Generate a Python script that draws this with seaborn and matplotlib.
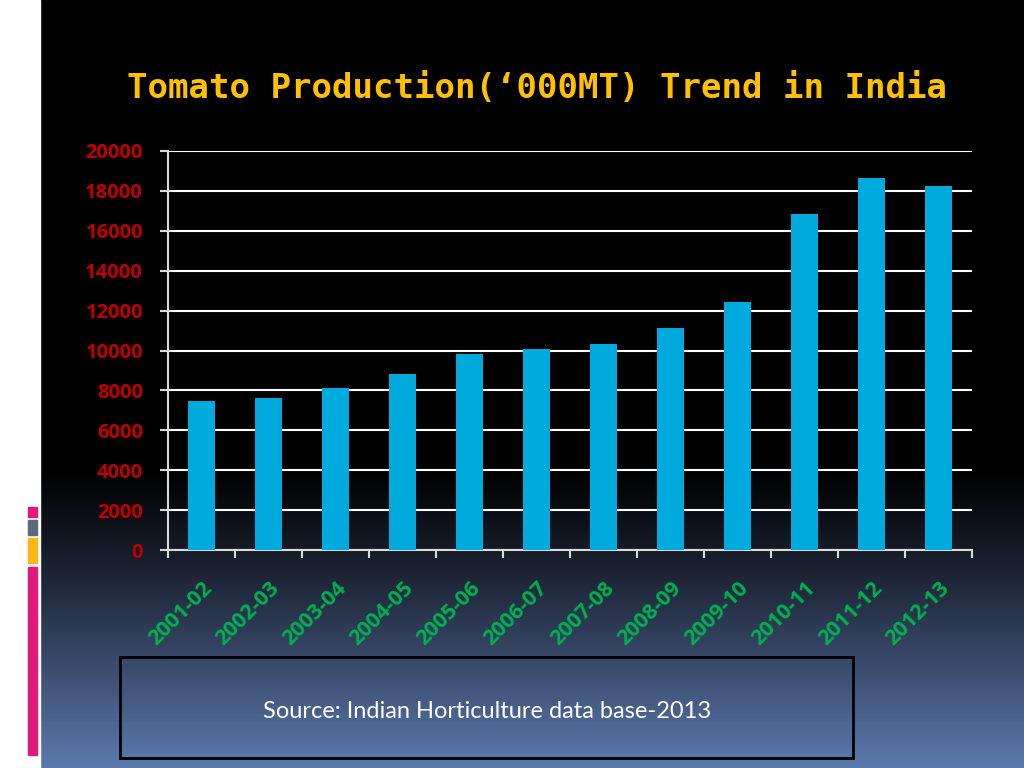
import numpy as np
import pandas as pd
import matplotlib.pyplot as plt
import matplotlib.patches as mpatches
from matplotlib.colors import LinearSegmentedColormap
from matplotlib.ticker import FixedLocator
import seaborn as sns

# Datos
years = ['2001-02', '2002-03', '2003-04', '2004-05', '2005-06', '2006-07',
         '2007-08', '2008-09', '2009-10', '2010-11', '2011-12', '2012-13']
production = [7460, 7600, 8125, 8825, 9820, 10055, 10303, 11149, 12433, 16826, 18653, 18227]
y_ticks = [0, 2000, 4000, 6000, 8000, 10000, 12000, 14000, 16000, 18000, 20000]

df = pd.DataFrame({'Year': years, 'Production': production})

sns.set_theme(style="white")
plt.rcParams['font.family'] = ['Open Sans', 'DejaVu Sans']

fig = plt.figure(figsize=(10.24, 7.68), dpi=100)
fig.patch.set_facecolor('black')

# Fondo degradado
bg = fig.add_axes([0, 0, 1, 1], zorder=0)
grad = np.ones((768, 1))
grad[:, 0] = np.clip((np.arange(768) - 470) / (768 - 470), 0, 1)
cmap = LinearSegmentedColormap.from_list('slide', ['#000000', '#1b2231', '#3b4d6e', '#5b7aae'])
bg.imshow(grad, aspect='auto', cmap=cmap, extent=[0, 1, 0, 1], origin='upper')
bg.set_axis_off()

# Franja izquierda
fig.patches.append(mpatches.Rectangle((0, 0), 40 / 1024, 1, transform=fig.transFigure,
                                      color='white', zorder=1))
for y0, y1, c in [(507, 517, '#e0197a'), (520, 535, '#5b6a7a'),
                  (538, 563, '#fbb812'), (567, 755, '#e0197a')]:
    fig.patches.append(mpatches.Rectangle((28 / 1024, 1 - y1 / 768), 9 / 1024, (y1 - y0) / 768,
                                          transform=fig.transFigure, color=c, zorder=2))

# Gráfico de barras
ax = fig.add_axes([168 / 1024, 1 - 550 / 768, (972 - 168) / 1024, (550 - 151) / 768], zorder=3)
ax.patch.set_alpha(0)
sns.barplot(data=df, x='Year', y='Production', color='#00aadc', width=0.4,
            saturation=1, linewidth=0, edgecolor='none', ax=ax, zorder=3)

ax.set_ylim(0, 20000)
ax.set_xlim(-0.5, len(years) - 0.5)
ax.set_yticks(y_ticks)
ax.yaxis.grid(True, color='white', linewidth=1.5, zorder=1)
ax.set_axisbelow(True)
for s in ['top', 'right']:
    ax.spines[s].set_visible(False)
for s in ['left', 'bottom']:
    ax.spines[s].set_color('#d9d9d9')
    ax.spines[s].set_linewidth(1.5)

ax.tick_params(axis='y', which='major', direction='out', length=6, width=1.5,
               color='#d9d9d9', left=True, pad=12, labelcolor='#c00000', labelsize=14.5)
plt.setp(ax.get_yticklabels(), fontweight='bold')

ax.xaxis.set_minor_locator(FixedLocator(np.arange(-0.5, len(years), 1)))
ax.tick_params(axis='x', which='minor', direction='out', length=5.5, width=1.5,
               color='#d9d9d9', bottom=True)
ax.tick_params(axis='x', which='major', length=0, pad=20)
ax.set_xticks(range(len(years)))
ax.set_xticklabels(years, rotation=45, ha='right', rotation_mode='anchor',
                   color='#00b050', fontsize=15.5, fontweight='bold')
ax.set_xlabel('')
ax.set_ylabel('')

# Título
fig.text(537 / 1024, 1 - 88 / 768, "Tomato Production(‘000MT) Trend in India",
         ha='center', va='center', color='#ffc000', fontsize=24.5, fontweight='bold',
         family=['DejaVu Sans Mono', 'DejaVu Sans'])

# Caja de fuente
fig.patches.append(mpatches.Rectangle((120 / 1024, 1 - 758 / 768), (853 - 120) / 1024, 101 / 768,
                                      transform=fig.transFigure, fill=False,
                                      edgecolor='black', linewidth=2, zorder=4))
fig.text(487 / 1024, 1 - 711 / 768, "Source: Indian Horticulture data base-2013",
         ha='center', va='center', color='white', fontsize=17,
         family=['Lato', 'DejaVu Sans'])

plt.savefig('out.png', dpi=100, facecolor=fig.get_facecolor())
